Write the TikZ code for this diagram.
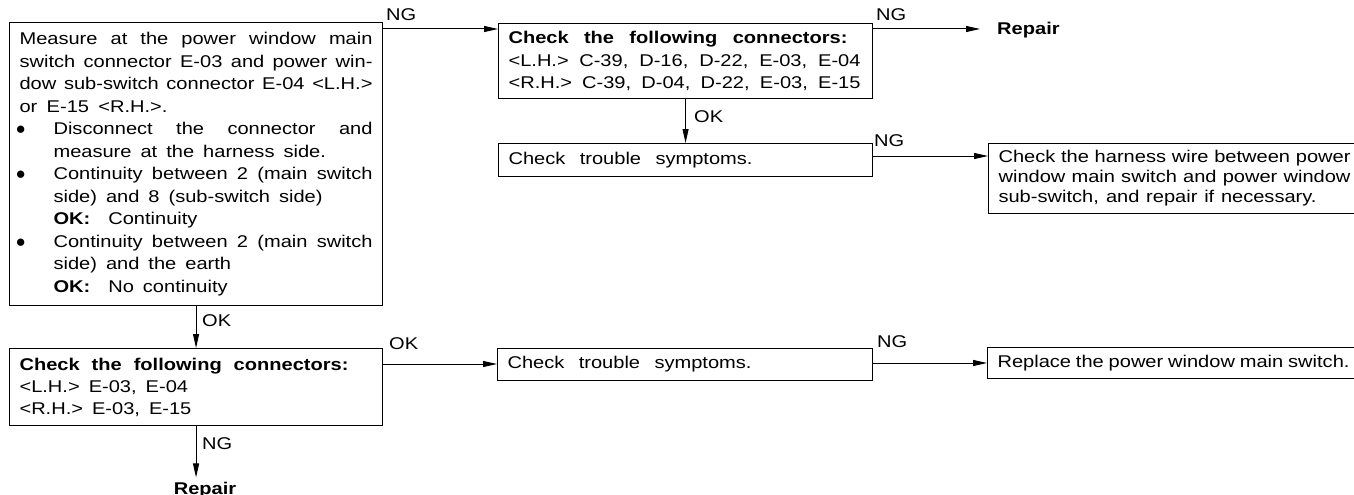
\documentclass[tikz,border=0pt]{standalone}
\usepackage{fontspec}
\setmainfont{Liberation Sans}[FakeStretch=1.18]
\newfontfamily\plainfont{Liberation Sans}
\usetikzlibrary{arrows.meta}
\newcommand\jl[2][353pt]{\makebox[#1][s]{#2}}
\newcommand\dotmark{\hspace*{-4pt}\makebox[38pt][l]{{\plainfont\fontsize{17}{17}\selectfont ●}}}
\newcommand\ind[1]{\hspace*{34pt}#1}
\begin{document}
\begin{tikzpicture}[x=1pt,y=-1pt,
  box/.style={draw, line width=1.1pt, anchor=north west, inner xsep=10pt, inner ysep=0pt, align=left,
    font=\fontsize{17}{22.5}\selectfont,
    execute at begin node={\spaceskip=9pt plus 30pt minus 6pt\xspaceskip=\spaceskip}},
  arr/.style={-{Triangle[length=14pt,width=6pt]}, line width=1pt},
  lab/.style={font=\fontsize{17}{18}\selectfont, inner sep=0pt, anchor=base west},
  rep/.style={font=\fontsize{17}{18}\selectfont\bfseries, inner sep=0pt}]
\useasboundingbox (0,0) rectangle (1354,495);

\node[box, minimum width=373pt, minimum height=283pt, text width=353pt] (b1) at (9,22) {%
\jl{Measure at the power window main}\\
\jl{switch connector E-03 and power win-}\\
\jl{dow sub-switch connector E-04 <L.H.>}\\
\jl[148pt]{or E-15 <R.H.>.}\\
\dotmark\jl[319pt]{Disconnect the connector and}\\
\ind{measure at the harness side.}\\
\dotmark\jl[319pt]{Continuity between 2 (main switch}\\
\ind{side) and 8 (sub-switch side)}\\
\ind{\textbf{OK:}\ \ Continuity}\\
\dotmark\jl[319pt]{Continuity between 2 (main switch}\\
\ind{side) and the earth}\\
\ind{\textbf{OK:}\ \ No continuity}};

\node[box, minimum width=374pt, minimum height=75pt, text width=354pt] (b2) at (498,23) {%
\jl[339pt]{\textbf{Check the following connectors:}}\\
\jl[352pt]{<L.H.> C-39, D-16, D-22, E-03, E-04}\\
\jl[352pt]{<R.H.> C-39, D-04, D-22, E-03, E-15}};

\node[box, minimum width=374pt, minimum height=33pt, text width=354pt] (b3) at (498,143) {\jl[244pt]{Check trouble symptoms.}};

\node[box, minimum width=372pt, minimum height=70pt, text width=352pt, font=\fontsize{17}{20}\selectfont] (b4) at (988,143) {%
\jl[352pt]{Check the harness wire between power}\\
\jl[352pt]{window main switch and power window}\\
\jl[318pt]{sub-switch, and repair if necessary.}};

\node[box, minimum width=373pt, minimum height=77pt, text width=353pt, font=\fontsize{17}{22}\selectfont] (b5) at (9,348) {%
\jl[329pt]{\textbf{Check the following connectors:}}\\
<L.H.> E-03, E-04\\
<R.H.> E-03, E-15};

\node[box, minimum width=375pt, minimum height=32pt, text width=355pt] (b6) at (497,348) {\jl[244pt]{Check trouble symptoms.}};

\node[box, minimum width=372pt, minimum height=31pt, text width=352pt] (b7) at (987,347) {\jl[352pt]{Replace the power window main switch.}};

\node[rep, anchor=west] (r1) at (997,30) {Repair};
\node[rep, anchor=base, inner ysep=4pt] (r2) at (205,494) {Repair};

\draw[arr] ([yshift=-7pt]b1.north east) -- ([yshift=-6pt]b2.north west);
\draw[arr] ([yshift=-6pt]b2.north east) -- ([xshift=-17pt]r1.west |- 0,29);
\draw[arr] (b2.south) -- (b3.north);
\draw[arr] ([yshift=-13pt]b3.north east) -- ([yshift=-13pt]b4.north west);
\draw[arr] (b1.south) -- (b5.north);
\draw[arr] ([yshift=-16pt]b5.north east) -- ([yshift=-16pt]b6.north west);
\draw[arr] ([yshift=-15pt]b6.north east) -- ([yshift=-16pt]b7.north west);
\draw[arr] (b5.south) -- (b5.south |- r2.north);

\node[lab] (l1) at (386,21) {NG};
\node[lab] (l2) at (876,21) {NG};
\node[lab] (l3) at (874,146) {NG};
\node[lab] (l4) at (694,122) {OK};
\node[lab] (l5) at (202,326) {OK};
\node[lab] (l6) at (389,349) {OK};
\node[lab] (l7) at (877,347) {NG};
\node[lab] (l8) at (202,449) {NG};
\end{tikzpicture}
\end{document}
